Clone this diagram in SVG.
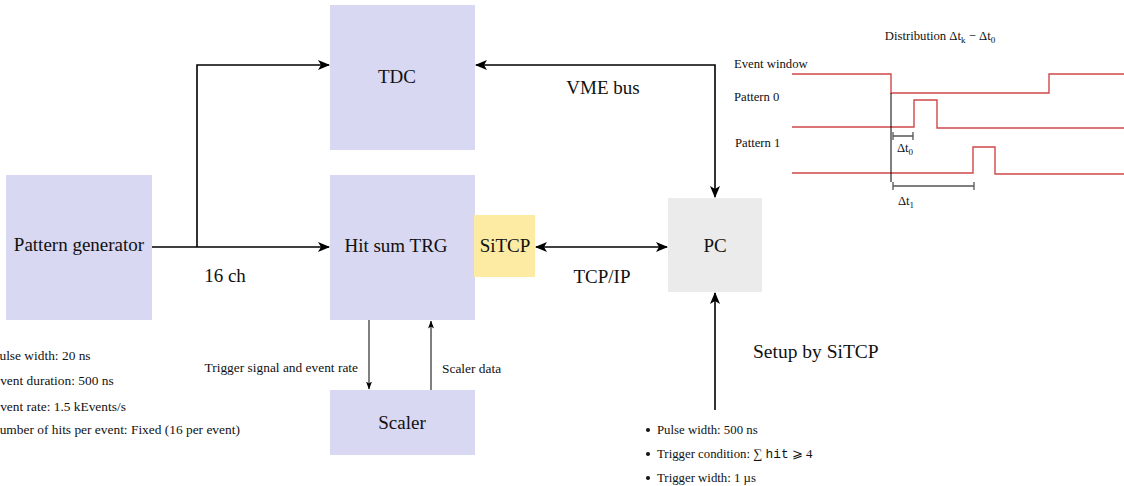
<svg xmlns="http://www.w3.org/2000/svg" width="1124" height="486" viewBox="0 0 1124 486">
<style>
.box{fill:#d8d8f2}
.sitcp{fill:#fdeaa3}
.pc{fill:#ebebeb}
.big{font-family:"Liberation Serif","DejaVu Serif",serif;font-size:19px;fill:#111;text-anchor:middle}
.mid{font-family:"Liberation Serif","DejaVu Serif",serif;font-size:19.5px;fill:#111}
.sm{font-family:"Liberation Serif","DejaVu Serif",serif;font-size:13.4px;fill:#111}
.lst{font-family:"Liberation Serif","DejaVu Serif",serif;font-size:12.8px;fill:#111}
.xs{font-family:"Liberation Serif","DejaVu Serif",serif;font-size:12.7px;fill:#111}
.conn{fill:none;stroke:#000;stroke-width:1.6}
.thin{fill:none;stroke:#000;stroke-width:1}
.sig{fill:none;stroke:#d04848;stroke-width:1.4}
.brk{fill:none;stroke:#555;stroke-width:1.3}
</style>
<defs>
<marker id="ah" viewBox="0 0 12 10" refX="11" refY="5" markerWidth="12" markerHeight="10" markerUnits="userSpaceOnUse" orient="auto-start-reverse">
<path d="M0,0 L12,5 L0,10 L3,5 Z" fill="#000"/>
</marker>
<marker id="ahs" viewBox="0 0 8 6" refX="7.5" refY="3" markerWidth="8" markerHeight="6" markerUnits="userSpaceOnUse" orient="auto-start-reverse">
<path d="M0,0 L8,3 L0,6 L2,3 Z" fill="#000"/>
</marker>
</defs>

<g id="pattern-generator">
<rect class="box" x="6" y="175" width="146" height="145"/>
<text class="big" x="79" y="251">Pattern generator</text>
</g>
<g id="tdc">
<rect class="box" x="330" y="5" width="145" height="145"/>
<text class="big" x="397" y="83">TDC</text>
</g>
<g id="hit-sum-trg">
<rect class="box" x="330" y="175" width="145" height="145"/>
<text class="big" x="396" y="252">Hit sum TRG</text>
</g>
<g id="sitcp">
<rect class="sitcp" x="474" y="215" width="61" height="62"/>
<text class="big" x="505" y="252">SiTCP</text>
</g>
<g id="pc">
<rect class="pc" x="668" y="198" width="94" height="94"/>
<text class="big" x="715" y="252">PC</text>
</g>
<g id="scaler">
<rect class="box" x="330" y="390" width="145" height="65"/>
<text class="big" x="402" y="429">Scaler</text>
</g>

<g id="connectors">
<path class="conn" d="M152,247 H329" marker-end="url(#ah)"/>
<path class="conn" d="M197,247 V65 H329" marker-end="url(#ah)"/>
<path class="conn" d="M476,65 H715 V197" marker-start="url(#ah)" marker-end="url(#ah)"/>
<path class="conn" d="M536,247 H667" marker-start="url(#ah)" marker-end="url(#ah)"/>
<path class="conn" d="M715,410 V293" marker-end="url(#ah)"/>
<path class="thin" d="M369,320 V389" marker-end="url(#ahs)"/>
<path class="thin" d="M431,390 V321" marker-end="url(#ahs)"/>
</g>

<g id="labels">
<text class="big" x="225" y="282">16 ch</text>
<text class="big" x="603" y="94">VME bus</text>
<text class="big" x="602" y="283">TCP/IP</text>
<text class="mid" x="753" y="358">Setup by SiTCP</text>
<text class="sm" x="358" y="372" text-anchor="end">Trigger signal and event rate</text>
<text class="sm" x="442" y="373">Scaler data</text>
</g>

<g id="pattern-settings">
<text class="sm" x="-8" y="360">Pulse width: 20 ns</text>
<text class="sm" x="-8" y="385">Event duration: 500 ns</text>
<text class="sm" x="-8" y="411">Event rate: 1.5 kEvents/s</text>
<text class="sm" x="-10" y="434">Number of hits per event: Fixed (16 per event)</text>
</g>

<g id="trigger-settings">
<circle cx="648" cy="430" r="2" fill="#111"/>
<circle cx="648" cy="454" r="2" fill="#111"/>
<circle cx="648" cy="478" r="2" fill="#111"/>
<text class="lst" x="657" y="434">Pulse width: 500 ns</text>
<text class="lst" x="657" y="458">Trigger condition: ∑ <tspan font-family="'Liberation Mono','DejaVu Sans Mono',monospace">hit</tspan> ⩾ 4</text>
<text class="lst" x="657" y="482">Trigger width: 1 µs</text>
</g>

<g id="timing">
<text class="xs" x="940" y="40" text-anchor="middle">Distribution Δt<tspan font-size="9" dy="3">k</tspan><tspan dy="-3"> − Δt</tspan><tspan font-size="9" dy="3">0</tspan></text>
<text class="xs" x="734" y="68">Event window</text>
<text class="xs" x="734" y="101">Pattern 0</text>
<text class="xs" x="735" y="147">Pattern 1</text>
<path class="sig" d="M792,74 H891 V93 H1049 V74 H1124"/>
<path class="sig" d="M792,127 H914 V100 H937 V128 H1124"/>
<path class="sig" d="M792,173 H973 V147 H995 V174 H1124"/>
<path d="M891,93 V182" stroke="#000" stroke-width="1" fill="none"/>
<path class="brk" d="M893,136 H913 M893,132 V140 M913,132 V140"/>
<path class="brk" d="M893,186 H974 M893,182 V190 M974,182 V190"/>
<text class="xs" x="905" y="152" text-anchor="middle">Δt<tspan font-size="9" dy="3">0</tspan></text>
<text class="xs" x="906" y="205" text-anchor="middle">Δt<tspan font-size="9" dy="3">1</tspan></text>
</g>
</svg>
